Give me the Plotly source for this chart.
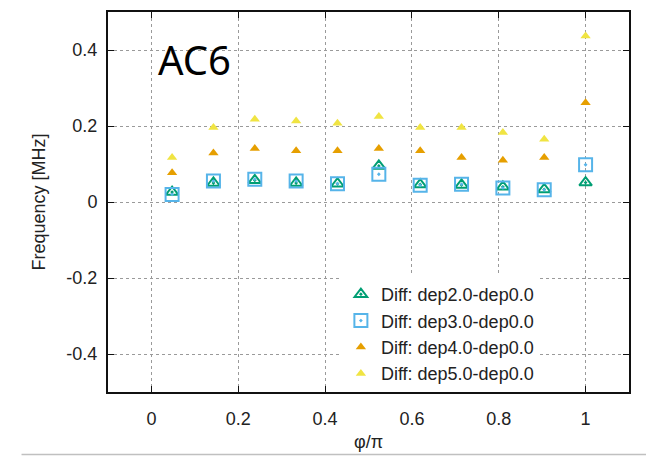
import plotly.graph_objects as go

# phi/pi positions
phi = [1/21, 3/21, 5/21, 7/21, 9/21, 11/21, 13/21, 15/21, 17/21, 19/21, 1.0]

dep2 = [0.026, 0.050, 0.057, 0.050, 0.048, 0.095, 0.046, 0.045, 0.040, 0.033, 0.051]
dep3 = [0.020, 0.055, 0.060, 0.055, 0.048, 0.073, 0.044, 0.047, 0.037, 0.032, 0.098]
dep4 = [0.077, 0.129, 0.141, 0.135, 0.135, 0.141, 0.135, 0.117, 0.110, 0.117, 0.261]
dep5 = [0.117, 0.196, 0.218, 0.213, 0.207, 0.225, 0.196, 0.196, 0.183, 0.165, 0.437]

names = ["Diff: dep2.0-dep0.0", "Diff: dep3.0-dep0.0",
         "Diff: dep4.0-dep0.0", "Diff: dep5.0-dep0.0"]

x_ticks = [0, 0.2, 0.4, 0.6, 0.8, 1]
x_labels = ["0", "0.2", "0.4", "0.6", "0.8", "1"]
y_ticks = [-0.4, -0.2, 0, 0.2, 0.4]
y_labels = ["-0.4", "-0.2", "0", "0.2", "0.4"]

fig = go.Figure()
fig.add_trace(go.Scatter(x=phi, y=dep2, mode="markers", name=names[0],
                         marker=dict(symbol="triangle-up-open-dot", size=11, color="#009e73",
                                     line=dict(width=2, color="#009e73"))))
fig.add_trace(go.Scatter(x=phi, y=dep3, mode="markers", name=names[1],
                         marker=dict(symbol="square-open-dot", size=13, color="#56b4e9",
                                     line=dict(width=2, color="#56b4e9"))))
fig.add_trace(go.Scatter(x=phi, y=dep4, mode="markers", name=names[2],
                         marker=dict(symbol="triangle-up", size=9, color="#e69f00",
                                     line=dict(width=0))))
fig.add_trace(go.Scatter(x=phi, y=dep5, mode="markers", name=names[3],
                         marker=dict(symbol="triangle-up", size=9, color="#f0e442",
                                     line=dict(width=0))))

axis_font = dict(family="Liberation Sans, Arial, sans-serif", size=18, color="#222222")

fig.update_xaxes(range=[-0.1, 1.1], tickvals=x_ticks, ticktext=x_labels,
                 showgrid=True, gridcolor="#9a9a9a", griddash="dot", gridwidth=1,
                 zeroline=False, showline=True, linecolor="#111111", linewidth=2,
                 mirror="ticks", ticks="inside", ticklen=6, tickcolor="#111111",
                 tickfont=axis_font, ticklabelstandoff=9,
                 title=dict(text="φ/π", font=axis_font, standoff=8))
fig.update_yaxes(range=[-0.5, 0.5], tickvals=y_ticks, ticktext=y_labels,
                 showgrid=True, gridcolor="#9a9a9a", griddash="dot", gridwidth=1,
                 zeroline=False, showline=True, linecolor="#111111", linewidth=2,
                 mirror="ticks", ticks="inside", ticklen=6, tickcolor="#111111",
                 tickfont=axis_font, ticklabelstandoff=5,
                 title=dict(text="Frequency [MHz]", font=axis_font, standoff=16))

fig.add_annotation(x=0.0115, y=0.375, xref="x", yref="y", text="AC6",
                   showarrow=False, xanchor="left", yanchor="middle",
                   font=dict(family="Noto Sans, sans-serif", size=40, color="#000000"))

fig.add_shape(type="line", xref="paper", yref="paper",
              x0=-0.166, x1=1.04, y0=-0.1645, y1=-0.1645,
              line=dict(color="#c0c0c0", width=1.5))

fig.update_layout(
    width=646, height=456,
    margin=dict(l=108, r=17, t=12, b=64, autoexpand=False),
    plot_bgcolor="white", paper_bgcolor="white",
    showlegend=True,
    legend=dict(x=0.447, y=0.0, xanchor="left", yanchor="bottom",
                bgcolor="white", borderwidth=0,
                font=dict(family="Liberation Sans, Arial, sans-serif", size=18, color="#222222"),
                itemwidth=30),
)

fig.write_html("out.html")
